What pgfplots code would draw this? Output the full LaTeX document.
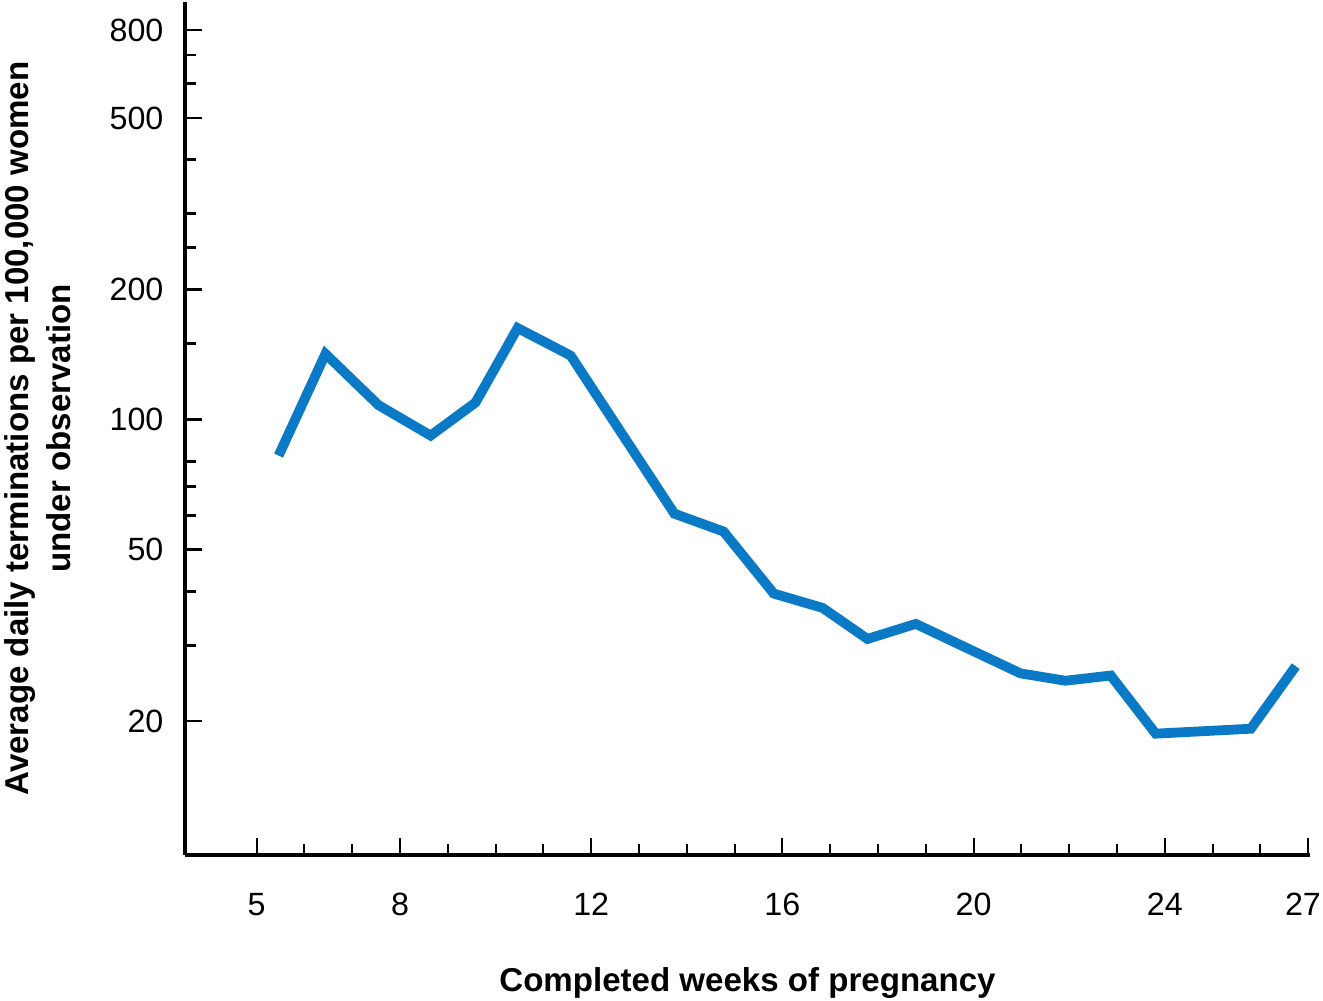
\documentclass[border=0pt]{standalone}
\usepackage{fontspec}
\setmainfont{Liberation Sans}
\usepackage{pgfplots}
\pgfplotsset{compat=1.18}
\definecolor{lineblue}{RGB}{10,122,198}

\begin{document}
\begin{tikzpicture}
\begin{axis}[
  name=ax,
  scale only axis,
  width=391.2pt, height=296.6pt,
  xmin=3.5, xmax=27.04,
  ymode=log, ymin=9.78, ymax=929,
  axis x line=bottom, axis y line=left,
  axis line style={-, line width=1.4pt},
  xtick={5,8,12,16,20,24,27},
  xticklabels={5,8,12,16,20,24,{27\kern3.6pt}},
  minor xtick={6,7,9,10,11,13,14,15,17,18,19,21,22,23,25,26},
  ytick={20,50,100,200,500,800},
  yticklabels={20,50,100,200,500,800},
  minor ytick={30,40,60,70,80,150,250,300,400,600,700},
  tick align=inside,
  major tick length=6pt, minor tick length=4pt,
  xtick style={line width=0.7pt, black},
  ytick style={line width=1pt, black},
  tick label style={font=\fontsize{11.2}{13}\selectfont},
  xticklabel style={anchor=base, yshift=-20.9pt},
  yticklabel style={anchor=east, inner sep=0pt, xshift=-7.3pt},
  label style={font=\bfseries\fontsize{11.5}{14.5}\selectfont},
  xlabel={Completed weeks of pregnancy},
  xlabel style={at={(axis description cs:0.5,-0.1595)}, anchor=base},
  ylabel={Average daily terminations per 100,000 women\\under observation},
  ylabel style={align=center, at={(axis description cs:-0.161,0.5)}, anchor=north, inner sep=0pt},
  clip=false,
]
\addplot[color=lineblue, line width=3.4pt, line join=miter, line cap=butt] coordinates {
  (5.46,82.5) (6.44,142) (7.55,108) (8.64,91.8) (9.58,109.5) (10.46,163)
  (11.57,140.7) (13.74,60.5) (14.77,55.0) (15.82,39.5) (16.84,36.6)
  (17.78,31.0) (18.79,33.6) (20.98,25.8) (21.92,24.8) (22.87,25.5)
  (23.81,18.7) (25.80,19.2) (26.74,26.8)
};
\end{axis}
\pgfresetboundingbox
\path[use as bounding box] ([xshift=-64.3pt,yshift=-50.4pt]ax.south west) rectangle ([xshift=4.5pt,yshift=0.7pt]ax.north east);
\end{tikzpicture}
\end{document}
